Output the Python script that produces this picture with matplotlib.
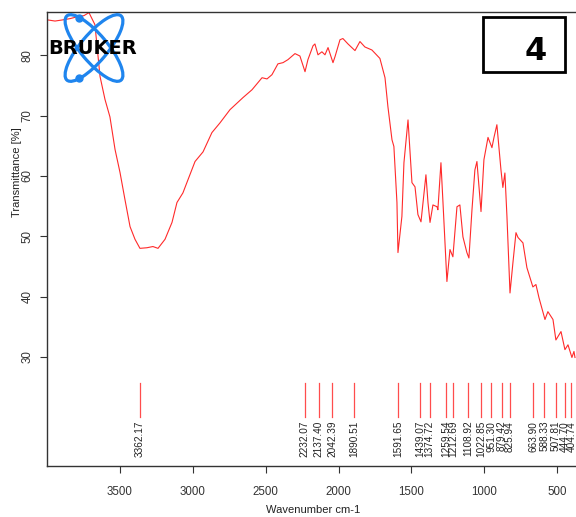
import matplotlib
matplotlib.use("Agg")
import matplotlib.pyplot as plt
from matplotlib.patches import Ellipse, Rectangle
import matplotlib.transforms as mtransforms
import numpy as np

plt.rcParams['font.family'] = ['Liberation Sans', 'DejaVu Sans']

# spectrum
wavenumber = [4000, 3946, 3891, 3843, 3795, 3747, 3713, 3672, 3637, 3603, 3569, 3534,
              3500, 3466, 3431, 3397, 3363, 3315, 3274, 3239, 3191, 3143, 3109, 3068,
              3033, 2985, 2930, 2869, 2814, 2745, 2656, 2594, 2525, 2491, 2457, 2416,
              2381, 2347, 2299, 2265, 2230, 2210, 2175, 2162, 2141, 2114, 2093, 2072,
              2038, 2024, 1990, 1970, 1935, 1887, 1853, 1819, 1771, 1716, 1681, 1661,
              1633, 1620, 1599, 1592, 1565, 1551, 1523, 1496, 1475, 1455, 1434, 1420,
              1400, 1386, 1372, 1352, 1324, 1318, 1297, 1283, 1256, 1235, 1215, 1187,
              1167, 1146, 1119, 1105, 1084, 1064, 1050, 1022, 1002, 974, 947, 933,
              913, 885, 872, 858, 844, 823, 803, 782, 768, 734, 707, 666, 645, 624,
              583, 563, 528, 508, 473, 446, 425, 398, 384, 377]
transmittance = [85.9, 85.7, 85.9, 86.1, 86.4, 86.6, 87.1, 85.1, 76.5, 72.7, 69.8, 64.4,
                 60.6, 56.1, 51.6, 49.5, 48.0, 48.1, 48.3, 48.0, 49.5, 52.3, 55.6, 57.2,
                 59.4, 62.4, 64.0, 67.2, 68.8, 71.0, 73.0, 74.3, 76.3, 76.1, 76.8, 78.6,
                 78.8, 79.3, 80.3, 79.9, 77.3, 79.3, 81.6, 81.9, 80.1, 80.6, 80.1, 81.3,
                 78.8, 79.8, 82.6, 82.8, 81.9, 80.8, 82.3, 81.4, 80.9, 79.5, 76.3, 71.5,
                 66.0, 64.9, 55.6, 47.3, 53.3, 62.2, 69.3, 58.9, 58.2, 53.6, 52.4, 55.6,
                 60.2, 55.6, 52.3, 55.2, 54.9, 54.4, 62.2, 55.6, 42.5, 47.8, 46.6, 54.9,
                 55.2, 49.9, 47.3, 46.4, 54.4, 61.0, 62.4, 54.1, 62.7, 66.4, 64.7, 66.4,
                 68.5, 61.0, 58.1, 60.5, 53.3, 40.6, 45.6, 50.6, 49.8, 48.9, 44.8, 41.6,
                 42.0, 39.8, 36.2, 37.5, 36.2, 32.8, 34.2, 31.2, 32.0, 29.9, 30.9, 29.9]

peaks = [3362.17, 2232.07, 2137.40, 2042.39, 1890.51, 1591.65, 1439.07, 1374.72,
         1259.54, 1212.69, 1108.92, 1022.85, 951.30, 879.42, 825.94, 663.90,
         588.33, 507.81, 444.70, 404.74]

fig = plt.figure(figsize=(5.76, 5.17), dpi=100)
ax = fig.add_axes([47/576, 1-466/517, 1-47/576, (466-12)/517])

ax.plot(wavenumber, transmittance, color="#ff2a2a", lw=0.8)

ax.set_xlim(4001, 370)
ax.set_ylim(11.9, 87.2)

# peak markers + labels (labels pushed apart a little when too close, like OPUS does)
px_per_wn = ax.get_position().width * fig.get_figwidth() * fig.dpi / (4001 - 370)
shift = [0.0] * len(peaks)
for i in range(1, len(peaks)):
    gap = (peaks[i-1] - peaks[i]) * px_per_wn + shift[i] - shift[i-1]
    if gap < 7:
        shift[i-1] -= (7 - gap) / 2
        shift[i] += (7 - gap) / 2
for p, s in zip(peaks, shift):
    ax.plot([p, p], [20.1, 25.7], color="#ff4d4d", lw=0.9)
    tr = ax.transData + mtransforms.ScaledTranslation(s / fig.dpi, 0, fig.dpi_scale_trans)
    ax.text(p, 19.4, "%.2f" % p, rotation=90, ha="center", va="top",
            fontsize=7.2, color="#222222", transform=tr)

ax.set_xticks([3500, 3000, 2500, 2000, 1500, 1000, 500])
ax.set_yticks([30, 40, 50, 60, 70, 80])
ax.tick_params(axis="x", direction="out", length=5, pad=9.5, labelsize=8.3, colors="#333333")
ax.tick_params(axis="y", direction="out", length=5, pad=4.5, labelsize=8.3, colors="#333333")
for lab in ax.get_yticklabels():
    lab.set_rotation(90)
    lab.set_va("center")
ax.spines["right"].set_visible(False)
for s in ["left", "bottom", "top"]:
    ax.spines[s].set_color("#333333")
    ax.spines[s].set_linewidth(1.0)

ax.set_xlabel("Wavenumber cm-1", fontsize=8, color="#222222")
ax.set_ylabel("Transmittance [%]", fontsize=8, color="#222222")
ax.xaxis.set_label_coords(0.503, -0.086)
ax.yaxis.set_label_coords(-0.048, 0.648)

# sample number box
fig.patches.append(Rectangle((483/576, 1-72/517), 82/576, 55/517, transform=fig.transFigure,
                             fill=False, edgecolor="black", lw=2))
fig.text(536/576, 1-51/517, "4", ha="center", va="center", fontsize=23,
         fontweight="bold", family="DejaVu Sans")

# bruker logo
lx0, ly0, lw_, lh_ = 45, 8, 100, 80
lax = fig.add_axes([lx0/576, 1-(ly0+lh_)/517, lw_/576, lh_/517])
lax.set_xlim(0, lw_)
lax.set_ylim(lh_, 0)
lax.axis("off")
cx, cy = 94-lx0, 48-ly0
for ang in (50, -50):
    lax.add_patch(Ellipse((cx, cy), 84, 27, angle=ang, fill=False,
                          edgecolor="#1f85ee", lw=2.3))
lax.plot([79-lx0, 79-lx0], [18-ly0, 78-ly0], "o", color="#1f85ee", ms=5)
lax.text(93-lx0, 49-ly0, "BRUKER", ha="center", va="center", fontsize=14,
         fontweight="bold", family="DejaVu Sans", color="black")

fig.savefig("out.png", dpi=100)
